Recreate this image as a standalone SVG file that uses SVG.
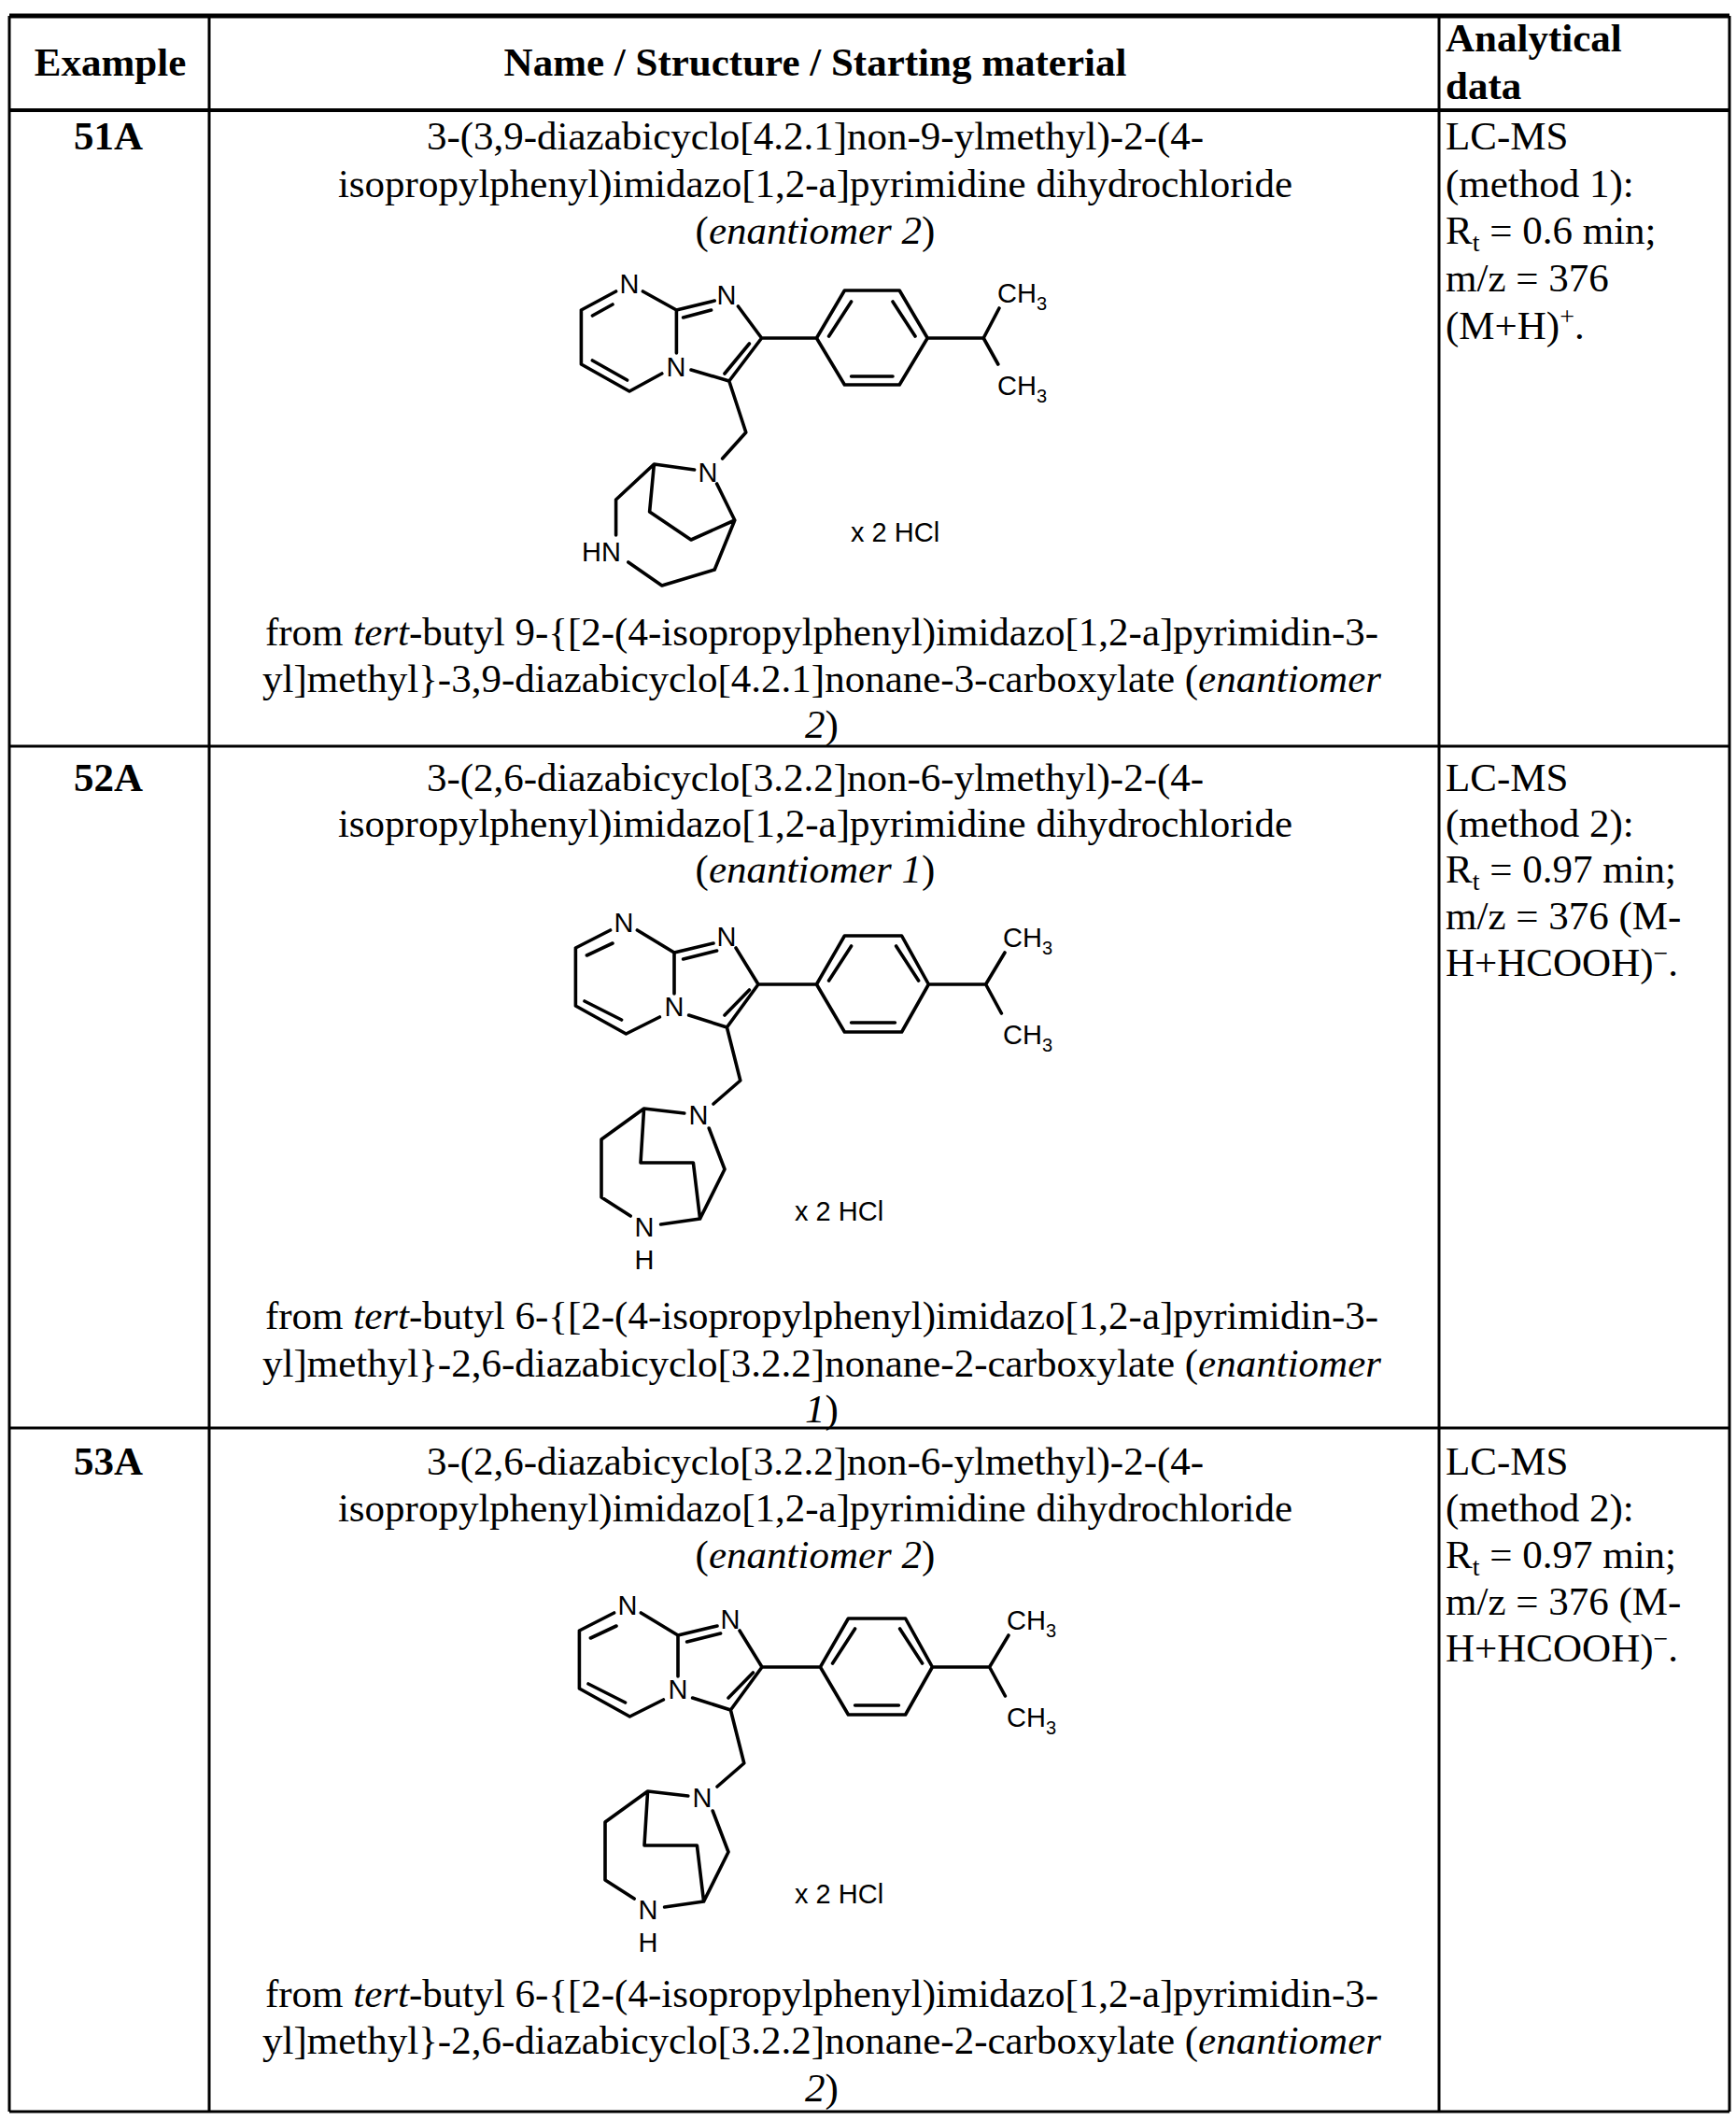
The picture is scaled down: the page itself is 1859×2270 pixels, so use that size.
<svg xmlns="http://www.w3.org/2000/svg" width="1859" height="2270" viewBox="0 0 1859 2270">
<style>
.t{font-family:"Liberation Serif",serif;font-size:43px;fill:#000}
.c{text-anchor:middle}
.b{font-weight:bold}
.grid line{stroke:#000;stroke-width:3}
.bd{stroke:#000;stroke-width:3.6;fill:none;stroke-linejoin:round;stroke-linecap:round;vector-effect:non-scaling-stroke}
.a{font-family:"Liberation Sans",Arial,sans-serif;font-size:29px;fill:#000;text-anchor:middle}
.h{font-family:"Liberation Sans",Arial,sans-serif;font-size:29px;fill:#000}
</style>
<rect width="1859" height="2270" fill="#fff"/>
<g id="grid" class="grid">
<line x1="10" y1="17" x2="1852" y2="17" style="stroke-width:5"/>
<line x1="10" y1="118" x2="1852" y2="118" style="stroke-width:4"/>
<line x1="10" y1="799" x2="1852" y2="799"/>
<line x1="10" y1="1529" x2="1852" y2="1529"/>
<line x1="10" y1="2261" x2="1852" y2="2261"/>
<line x1="10" y1="17" x2="10" y2="2261"/>
<line x1="224" y1="17" x2="224" y2="2261"/>
<line x1="1541" y1="17" x2="1541" y2="2261"/>
<line x1="1852" y1="17" x2="1852" y2="2261"/>
</g>
<g id="header">
<text class="t c b" x="118" y="81">Example</text>
<text class="t c b" x="873" y="81">Name / Structure / Starting material</text>
<text class="t b" x="1548" y="55">Analytical</text>
<text class="t b" x="1548" y="106">data</text>
</g>
<g id="row51A">
<text class="t c b" x="116" y="160">51A</text>
<text class="t c" x="873" y="160">3-(3,9-diazabicyclo[4.2.1]non-9-ylmethyl)-2-(4-</text>
<text class="t c" x="873" y="211">isopropylphenyl)imidazo[1,2-a]pyrimidine dihydrochloride</text>
<text class="t c" x="873" y="261">(<tspan font-style="italic">enantiomer 2</tspan>)</text>
<text class="t c" x="880" y="691">from <tspan font-style="italic">tert</tspan>-butyl 9-{[2-(4-isopropylphenyl)imidazo[1,2-a]pyrimidin-3-</text>
<text class="t c" x="880" y="741">yl]methyl}-3,9-diazabicyclo[4.2.1]nonane-3-carboxylate (<tspan font-style="italic">enantiomer</tspan></text>
<text class="t c" x="880" y="790"><tspan font-style="italic">2</tspan>)</text>
<text class="t" x="1548" y="160">LC-MS</text>
<text class="t" x="1548" y="211">(method 1):</text>
<text class="t" x="1548" y="261">R<tspan font-size="28" dy="8">t</tspan><tspan dy="-8"> = 0.6 min;</tspan></text>
<text class="t" x="1548" y="312">m/z = 376</text>
<text class="t" x="1548" y="363">(M+H)<tspan font-size="28" dy="-15">+</tspan><tspan dy="15">.</tspan></text>
</g>
<g id="struct51A">
<g transform="translate(560,0) scale(1.2,1) translate(-560,0)">
<path class="bd" d="M612,332 L643,312 M667,312 L697,332 L731,322 M752,328 L773,362 L744,408 L710,396 M684,400 L655,419 L612,390 L612,332 M697,332 L697,378 M773,362 L822,362 M822,362 L847,311 L896,311 L921,362 L896,412 L847,412 Z M921,362 L971,362 L985,330 M971,362 L984,390 M744,408 L759,463 L738,491 M713,503 L677,497 L643,535 L643,573 M733,518 L749,557 L731,610 L684,627 L654,602 M677,497 L673,548 L710,578 L749,557"/>
<path class="bd" d="M622,338 L640,326 M622,386 L653,407 M703,340 L728,332 M762,368 L740,400 M853,323 L833,360 M890,323 L910,360 M853,403 L890,403"/>
</g>
<text class="a" x="674" y="314">N</text>
<text class="a" x="778" y="326">N</text>
<text class="a" x="724" y="403">N</text>
<text class="a" x="758" y="516">N</text>
<text class="a" x="644" y="601">HN</text>
<text class="h" x="1068" y="324">CH<tspan font-size="20" dy="8">3</tspan></text>
<text class="h" x="1068" y="423">CH<tspan font-size="20" dy="8">3</tspan></text>
<text class="h" x="911" y="580">x  2 HCl</text>
</g>
<g id="row52A">
<text class="t c b" x="116" y="847">52A</text>
<text class="t c" x="873" y="847">3-(2,6-diazabicyclo[3.2.2]non-6-ylmethyl)-2-(4-</text>
<text class="t c" x="873" y="896">isopropylphenyl)imidazo[1,2-a]pyrimidine dihydrochloride</text>
<text class="t c" x="873" y="945">(<tspan font-style="italic">enantiomer 1</tspan>)</text>
<text class="t c" x="880" y="1423">from <tspan font-style="italic">tert</tspan>-butyl 6-{[2-(4-isopropylphenyl)imidazo[1,2-a]pyrimidin-3-</text>
<text class="t c" x="880" y="1474">yl]methyl}-2,6-diazabicyclo[3.2.2]nonane-2-carboxylate (<tspan font-style="italic">enantiomer</tspan></text>
<text class="t c" x="880" y="1523"><tspan font-style="italic">1</tspan>)</text>
<text class="t" x="1548" y="847">LC-MS</text>
<text class="t" x="1548" y="896">(method 2):</text>
<text class="t" x="1548" y="945">R<tspan font-size="28" dy="8">t</tspan><tspan dy="-8"> = 0.97 min;</tspan></text>
<text class="t" x="1548" y="995">m/z = 376 (M-</text>
<text class="t" x="1548" y="1045">H+HCOOH)<tspan font-size="28" dy="-15">−</tspan><tspan dy="15">.</tspan></text>
</g>
<g id="struct52A">
<g transform="translate(560,0) scale(1.2,1) translate(-560,0)">
<path class="bd" d="M607,1015 L638,996 M662,996 L695,1020 L730,1010 M750,1015 L770,1054 L742,1100 L708,1087 M682,1089 L652,1107 L607,1077 L607,1015 M695,1020 L695,1064 M770,1054 L822,1054 M822,1054 L847,1002 L898,1002 L922,1054 L898,1105 L847,1105 Z M922,1054 L973,1054 L990,1020 M973,1054 L987,1085 M742,1100 L754,1157 L730,1182 M704,1192 L668,1187 L630,1220 L630,1282 L656,1302 M683,1311 L718,1305 L740,1252 L726,1208 M668,1187 L665,1245 L712,1245 L718,1305"/>
<path class="bd" d="M617,1023 L640,1010 M615,1072 L648,1092 M703,1027 L733,1018 M762,1060 L740,1087 M853,1013 L833,1050 M893,1013 L913,1050 M853,1095 L892,1095"/>
</g>
<text class="a" x="668" y="998">N</text>
<text class="a" x="778" y="1013">N</text>
<text class="a" x="722" y="1088">N</text>
<text class="a" x="748" y="1204">N</text>
<text class="a" x="690" y="1324">N</text>
<text class="a" x="690" y="1359">H</text>
<text class="h" x="1074" y="1014">CH<tspan font-size="20" dy="8">3</tspan></text>
<text class="h" x="1074" y="1118">CH<tspan font-size="20" dy="8">3</tspan></text>
<text class="h" x="851" y="1307">x  2 HCl</text>
</g>
<g id="row53A">
<text class="t c b" x="116" y="1579">53A</text>
<text class="t c" x="873" y="1579">3-(2,6-diazabicyclo[3.2.2]non-6-ylmethyl)-2-(4-</text>
<text class="t c" x="873" y="1629">isopropylphenyl)imidazo[1,2-a]pyrimidine dihydrochloride</text>
<text class="t c" x="873" y="1679">(<tspan font-style="italic">enantiomer 2</tspan>)</text>
<text class="t c" x="880" y="2149">from <tspan font-style="italic">tert</tspan>-butyl 6-{[2-(4-isopropylphenyl)imidazo[1,2-a]pyrimidin-3-</text>
<text class="t c" x="880" y="2199">yl]methyl}-2,6-diazabicyclo[3.2.2]nonane-2-carboxylate (<tspan font-style="italic">enantiomer</tspan></text>
<text class="t c" x="880" y="2250"><tspan font-style="italic">2</tspan>)</text>
<text class="t" x="1548" y="1579">LC-MS</text>
<text class="t" x="1548" y="1629">(method 2):</text>
<text class="t" x="1548" y="1679">R<tspan font-size="28" dy="8">t</tspan><tspan dy="-8"> = 0.97 min;</tspan></text>
<text class="t" x="1548" y="1729">m/z = 376 (M-</text>
<text class="t" x="1548" y="1779">H+HCOOH)<tspan font-size="28" dy="-15">−</tspan><tspan dy="15">.</tspan></text>
</g>
<g id="struct53A" transform="translate(4,731)">
<g transform="translate(560,0) scale(1.2,1) translate(-560,0)">
<path class="bd" d="M607,1015 L638,996 M662,996 L695,1020 L730,1010 M750,1015 L770,1054 L742,1100 L708,1087 M682,1089 L652,1107 L607,1077 L607,1015 M695,1020 L695,1064 M770,1054 L822,1054 M822,1054 L847,1002 L898,1002 L922,1054 L898,1105 L847,1105 Z M922,1054 L973,1054 L990,1020 M973,1054 L987,1085 M742,1100 L754,1157 L730,1182 M704,1192 L668,1187 L630,1220 L630,1282 L656,1302 M683,1311 L718,1305 L740,1252 L726,1208 M668,1187 L665,1245 L712,1245 L718,1305"/>
<path class="bd" d="M617,1023 L640,1010 M615,1072 L648,1092 M703,1027 L733,1018 M762,1060 L740,1087 M853,1013 L833,1050 M893,1013 L913,1050 M853,1095 L892,1095"/>
</g>
<text class="a" x="668" y="998">N</text>
<text class="a" x="778" y="1013">N</text>
<text class="a" x="722" y="1088">N</text>
<text class="a" x="748" y="1204">N</text>
<text class="a" x="690" y="1324">N</text>
<text class="a" x="690" y="1359">H</text>
<text class="h" x="1074" y="1014">CH<tspan font-size="20" dy="8">3</tspan></text>
<text class="h" x="1074" y="1118">CH<tspan font-size="20" dy="8">3</tspan></text>
<text class="h" x="847" y="1307">x  2 HCl</text>
</g>
</svg>
